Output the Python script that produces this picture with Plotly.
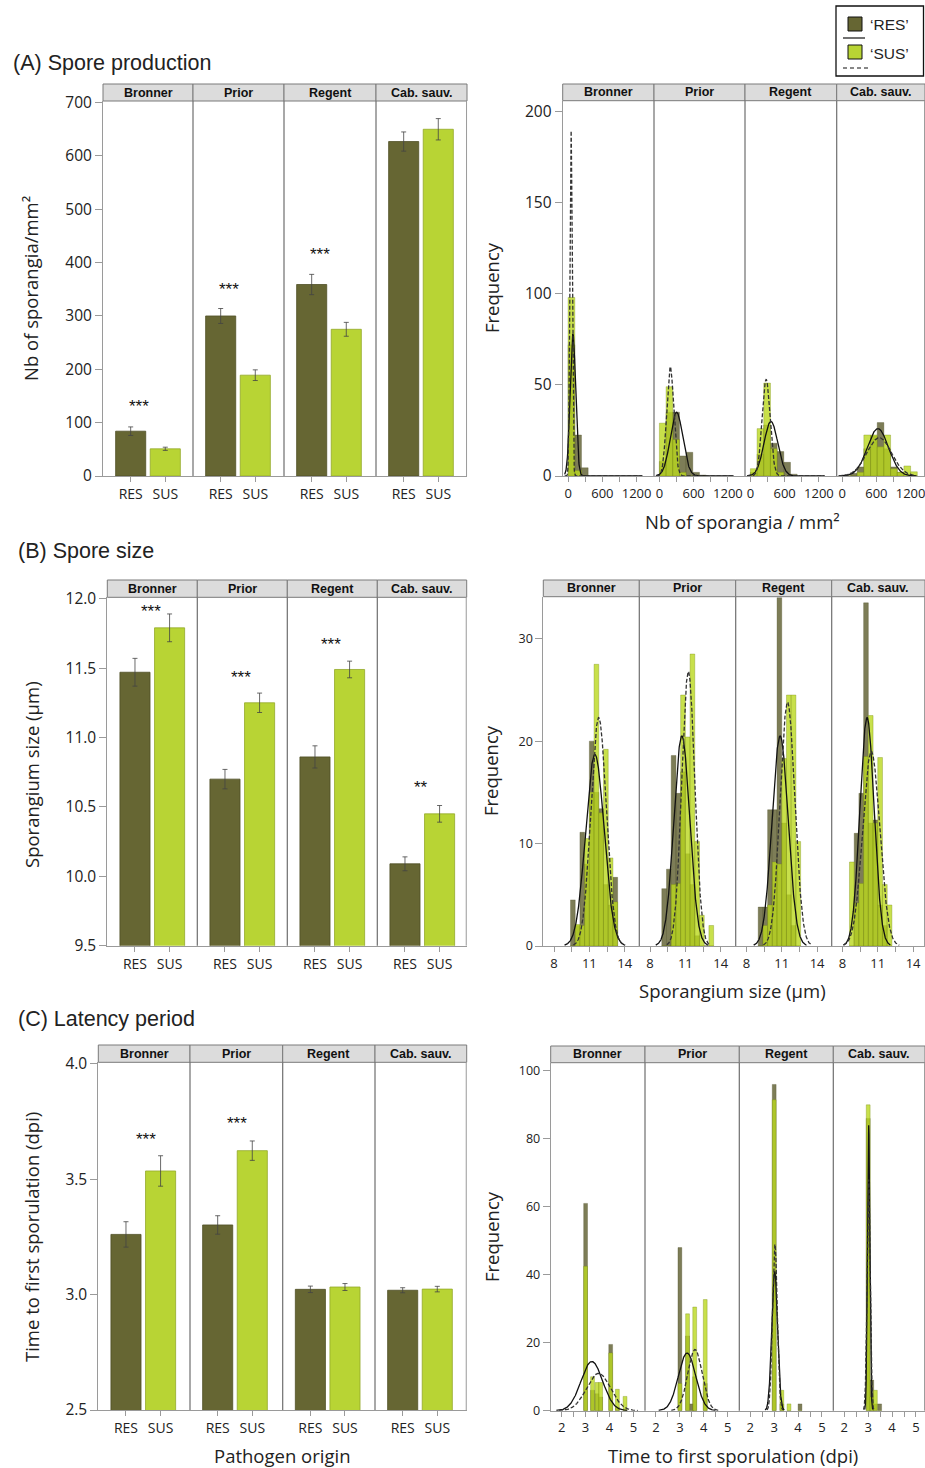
import numpy as np
import plotly.graph_objects as go

W, H = 925, 1468

cultivars = ["Bronner", "Prior", "Regent", "Cab. sauv."]
origin_labels = ["RES", "SUS"]

# ---------------- (A) Spore production : bar means / errors
prod_res = [84, 300, 359, 627]
prod_res_err = [8, 14, 19, 18]
prod_sus = [51, 189, 275, 650]
prod_sus_err = [3, 10, 13, 20]
prod_sig = ["***", "***", "***", ""]
prod_sig_y = [137, 358, 422, 0]

# (A) histograms (bin width 117 sporangia/mm2)
prod_bin_width = 117
prod_bins = [
    [58.5, 175.5, 292.5],
    [58.5, 175.5, 292.5, 409.5, 526.5, 643.5, 760.5],
    [58.5, 175.5, 292.5, 409.5, 526.5, 643.5, 760.5],
    [88.5, 205.5, 322.5, 439.5, 556.5, 673.5, 790.5, 907.5, 1024.5, 1141.5, 1258.5],
]
prod_hist_res = [
    [72, 22.5, 4.5],
    [8, 35, 35, 11, 13, 2, 0.5],
    [2, 12, 28, 18, 13.4, 7.5, 1],
    [0, 1.5, 5, 15, 22, 29.3, 15, 5, 2, 0, 0],
]
prod_hist_sus = [
    [98, 3, 0],
    [29, 49, 20, 2, 0, 0, 0],
    [4, 26, 51, 15, 2, 0, 0],
    [0, 0, 2, 22.5, 22.5, 16, 22.5, 4, 2, 5.5, 2.3],
]
# normal fits: mean, sd, peak height
prod_fit_res = [(84, 48, 78), (300, 110, 35), (359, 120, 30), (627, 185, 26)]
prod_fit_sus = [(51, 20, 190), (189, 62, 60), (275, 70, 53), (650, 215, 21)]

# ---------------- (B) Spore size
size_res = [11.47, 10.70, 10.86, 10.09]
size_res_err = [0.10, 0.07, 0.08, 0.05]
size_sus = [11.79, 11.25, 11.49, 10.45]
size_sus_err = [0.10, 0.07, 0.06, 0.06]
size_sig = ["***", "***", "***", "**"]
size_sig_y = [11.94, 11.46, 11.70, 10.67]

size_bin_width = 0.4
size_bins = [
    [9.6, 10.0, 10.4, 10.8, 11.2, 11.6, 12.0, 12.4, 12.8, 13.2],
    [9.2, 9.6, 10.0, 10.4, 10.8, 11.2, 11.6, 12.0, 12.4, 12.8, 13.2],
    [9.2, 9.6, 10.0, 10.4, 10.8, 11.2, 11.6, 12.0, 12.4],
    [8.8, 9.2, 9.6, 10.0, 10.4, 10.8, 11.2, 11.6, 12.0],
]
size_hist_res = [
    [4.5, 2, 11.1, 8, 20, 15, 13.4, 6, 4, 6.7],
    [5.6, 7.5, 18.6, 14.9, 17, 9, 6, 1, 0, 0, 0],
    [3.8, 3.8, 13.3, 13.3, 34, 12, 5, 2, 0],
    [0, 11, 14.9, 33.5, 12, 12.3, 4, 2, 0],
]
size_hist_sus = [
    [0, 2.1, 2, 10.5, 15, 27.5, 13, 19.2, 8.6, 4.3],
    [0, 0, 6, 6.1, 24.5, 20.4, 28.5, 10.2, 3, 0, 2],
    [0, 2, 4, 8.2, 8, 18.3, 24.5, 24.5, 10.2],
    [8.2, 4.2, 6.1, 18.5, 22.5, 12, 18.4, 6, 4],
]
size_fit_res = [(11.47, 0.78, 18.7), (10.70, 0.67, 20.5), (10.86, 0.68, 20.5), (10.09, 0.60, 22.3)]
size_fit_sus = [(11.79, 0.65, 22.3), (11.25, 0.55, 26.8), (11.49, 0.62, 23.8), (10.45, 0.72, 19.0)]

# ---------------- (C) Latency period
lat_res = [3.261, 3.302, 3.023, 3.019]
lat_res_err = [0.055, 0.04, 0.014, 0.011]
lat_sus = [3.536, 3.624, 3.033, 3.024]
lat_sus_err = [0.066, 0.042, 0.015, 0.012]
lat_sig = ["***", "***", "", ""]
lat_sig_y = [3.69, 3.76, 0, 0]

lat_bin_width = 0.16
lat_bins = [
    [3.0, 3.29, 3.48, 3.63, 4.05, 4.33, 4.65],
    [3.0, 3.32, 3.49, 3.62, 4.06],
    [3.0, 3.32, 3.62, 4.08],
    [3.0, 3.15, 3.30, 3.48],
]
lat_hist_res = [
    [61, 6, 5, 4, 19.5, 1, 0],
    [48, 22, 2, 10, 8],
    [96, 2, 0, 2],
    [86, 9, 2, 2],
]
lat_hist_sus = [
    [42.5, 10, 8.3, 8.3, 17, 6.3, 4.2],
    [8, 28.5, 0, 30.5, 32.7],
    [91.5, 6, 2, 0],
    [90, 4, 6, 0],
]
lat_fit_res = [(3.26, 0.45, 14.5), (3.30, 0.36, 17), (3.02, 0.12, 41), (3.02, 0.05, 84)]
lat_fit_sus = [(3.54, 0.50, 11), (3.63, 0.30, 18), (3.03, 0.10, 49), (3.02, 0.065, 68)]

# ---------------- styling
RES_C = "#666633"
SUS_C = "#B8D434"
RES_H = "rgba(88,88,40,0.78)"
SUS_H = "rgba(186,216,30,0.80)"
TXT = "#222222"
AX = "#9a9a9a"
FR = "#6e6e6e"
TICKF = "Open Sans"
TITLEF = "Liberation Sans"


def pxx(x):
    return x / W


def pxy(y):
    return 1 - y / H


fig = go.Figure()
layout = {}
shapes = []
annotations = []


def axname(kind, i):
    return f"{kind}axis" if i == 1 else f"{kind}axis{i}"


def axref(kind, i):
    return kind if i == 1 else f"{kind}{i}"


def setup_panel(p, edges, strip_top, top, bottom, yrange, ytickvals, yticktext,
                ytickfont, xranges, xtickvals, xticktext, xtickfont):
    yi = p + 1
    layout[axname("y", yi)] = dict(
        domain=[pxy(bottom), pxy(top)], range=yrange, anchor=axref("x", p * 4 + 1),
        tickvals=ytickvals, ticktext=yticktext, ticks="outside", ticklen=7,
        tickcolor=AX, showline=True, linecolor=AX, showgrid=False, zeroline=False,
        tickfont=dict(family=TICKF, size=ytickfont, color=TXT), fixedrange=True,
        automargin=False, ticklabeloverflow="allow",
    )
    for f in range(4):
        xi = p * 4 + f + 1
        layout[axname("x", xi)] = dict(
            domain=[pxx(edges[f]), min(1.0, pxx(edges[f + 1]))], range=xranges[f],
            anchor=axref("y", yi), tickvals=xtickvals, ticktext=xticktext,
            ticks="outside", ticklen=5, tickcolor=AX, showline=True, linecolor=AX,
            showgrid=False, zeroline=False,
            tickfont=dict(family=TICKF, size=xtickfont, color=TXT), fixedrange=True,
            automargin=False, ticklabeloverflow="allow",
        )
        # strip
        shapes.append(dict(type="rect", xref="paper", yref="paper",
                           x0=pxx(edges[f]), x1=pxx(edges[f + 1]),
                           y0=pxy(top), y1=pxy(strip_top),
                           fillcolor="#dcdcdc", line=dict(color="#7a7a7a", width=1)))
        annotations.append(dict(xref="paper", yref="paper",
                                x=pxx((edges[f] + min(edges[f + 1], W)) / 2),
                                y=pxy((top + strip_top) / 2), text=f"<b>{cultivars[f]}</b>",
                                showarrow=False, xanchor="center", yanchor="middle",
                                font=dict(family=TITLEF, size=12.5, color="#111")))
        # facet separators
        if f > 0:
            shapes.append(dict(type="line", xref="paper", yref="paper",
                               x0=pxx(edges[f]), x1=pxx(edges[f]),
                               y0=pxy(bottom), y1=pxy(top),
                               line=dict(color=FR, width=1.2)))
    # right frame line
    shapes.append(dict(type="line", xref="paper", yref="paper",
                       x0=pxx(edges[4]) - 0.0005, x1=pxx(edges[4]) - 0.0005,
                       y0=pxy(bottom), y1=pxy(top), line=dict(color=AX, width=1)))


def bar_facets(p, res, res_err, sus, sus_err, sig, sig_y, sig_x):
    yi = p + 1
    for f in range(4):
        xi = p * 4 + f + 1
        fig.add_trace(go.Bar(
            x=[0, 1], y=[res[f], sus[f]], width=0.87,
            marker=dict(color=[RES_C, SUS_C], line=dict(color=["#4f4f26", "#93a82a"], width=0.8)),
            error_y=dict(type="data", array=[res_err[f], sus_err[f]], color="#444",
                         thickness=0.8, width=2.5),
            xaxis=axref("x", xi), yaxis=axref("y", yi), showlegend=False, hoverinfo="skip",
        ))
        if sig[f]:
            annotations.append(dict(xref=axref("x", xi), yref=axref("y", yi), x=sig_x,
                                    y=sig_y[f], text=sig[f], showarrow=False,
                                    xanchor="center", yanchor="middle", yshift=-4,
                                    font=dict(family=TITLEF, size=17, color="#111")))


def hist_facets(p, bins, bw, hres, hsus, fres, fsus, curve_lo, curve_hi):
    yi = p + 1
    for f in range(4):
        xi = p * 4 + f + 1
        xr, yr = axref("x", xi), axref("y", yi)
        fig.add_trace(go.Bar(x=bins[f], y=hres[f], width=bw,
                             marker=dict(color=RES_H, line=dict(color="rgba(70,70,30,0.5)", width=0.6)),
                             xaxis=xr, yaxis=yr, showlegend=False, hoverinfo="skip"))
        fig.add_trace(go.Bar(x=bins[f], y=hsus[f], width=bw,
                             marker=dict(color=SUS_H, line=dict(color="rgba(120,140,20,0.6)", width=0.6)),
                             xaxis=xr, yaxis=yr, showlegend=False, hoverinfo="skip"))
        for (mu, sd, pk), dash in ((fres[f], "solid"), (fsus[f], "dash")):
            lo = curve_lo(mu, sd)
            hi = curve_hi(mu, sd)
            xs = np.linspace(lo, hi, 400)
            ys = pk * np.exp(-0.5 * ((xs - mu) / sd) ** 2)
            fig.add_trace(go.Scatter(x=xs, y=ys, mode="lines",
                                     line=dict(color="#111" if dash == "solid" else "#333",
                                               width=1.3, dash="solid" if dash == "solid" else "4px,2px"),
                                     xaxis=xr, yaxis=yr, showlegend=False, hoverinfo="skip"))


# ---------------- panel geometry (pixels)
left_ticks_x = [0, 1]
# A left
eA = [103, 193, 284, 376, 467]
setup_panel(0, eA, 84, 101, 476, [0, 703], list(range(0, 701, 100)),
            [str(v) for v in range(0, 701, 100)], 15.5,
            [[-0.8, -0.8 + (eA[f + 1] - eA[f]) / 34.6] for f in range(4)],
            left_ticks_x, origin_labels, 14)
bar_facets(0, prod_res, prod_res_err, prod_sus, prod_sus_err, prod_sig, prod_sig_y, 0.23)

# A right
eAr = [562.7, 654, 745, 836.7, 925]
sA = 1600 / 91.3
setup_panel(1, eAr, 84, 100.7, 476, [0, 206], [0, 50, 100, 150, 200],
            ["0", "50", "100", "150", "200"], 15.5,
            [[-95, -95 + (eAr[f + 1] - eAr[f]) * sA] for f in range(4)],
            [0, 300, 600, 900, 1200], ["0", "", "600", "", "1200"], 13)
hist_facets(1, prod_bins, prod_bin_width, prod_hist_res, prod_hist_sus,
            prod_fit_res, prod_fit_sus, lambda m, s: -60, lambda m, s: 1300)

# B left
eB = [107.3, 197.3, 287.3, 377.3, 466.7]
setup_panel(2, eB, 580, 597.3, 945.7, [9.5, 12.01], [9.5, 10, 10.5, 11, 11.5, 12],
            ["9.5", "10.0", "10.5", "11.0", "11.5", "12.0"], 15.5,
            [[-0.8, -0.8 + (eB[f + 1] - eB[f]) / 34.6] for f in range(4)],
            left_ticks_x, origin_labels, 14)
bar_facets(2, size_res, size_res_err, size_sus, size_sus_err, size_sig, size_sig_y, 0.47)

# B right
eBr = [543.3, 639.3, 735.7, 831.7, 925]
sB = 1 / 11.78
setup_panel(3, eBr, 580, 596.7, 946, [0, 34.1], [0, 10, 20, 30], ["0", "10", "20", "30"], 12.5,
            [[7.09, 7.09 + (eBr[f + 1] - eBr[f]) * sB] for f in range(4)],
            [8, 9.5, 11, 12.5, 14], ["8", "", "11", "", "14"], 13)
hist_facets(3, size_bins, size_bin_width, size_hist_res, size_hist_sus,
            size_fit_res, size_fit_sus, lambda m, s: m - 3.3 * s, lambda m, s: m + 3.3 * s)

# C left
eC = [98.3, 190, 282.7, 375, 466.7]
setup_panel(4, eC, 1045, 1062.3, 1410, [2.5, 4.007], [2.5, 3.0, 3.5, 4.0],
            ["2.5", "3.0", "3.5", "4.0"], 15.5,
            [[-0.8, -0.8 + (eC[f + 1] - eC[f]) / 34.6] for f in range(4)],
            left_ticks_x, origin_labels, 14)
bar_facets(4, lat_res, lat_res_err, lat_sus, lat_sus_err, lat_sig, lat_sig_y, 0.57)

# C right
eCr = [550.7, 645, 739.3, 833.3, 925]
sC = 1 / 23.9
setup_panel(5, eCr, 1046, 1062.7, 1410.7, [0, 102.4], [0, 20, 40, 60, 80, 100],
            ["0", "20", "40", "60", "80", "100"], 12.5,
            [[1.54, 1.54 + (eCr[f + 1] - eCr[f]) * sC] for f in range(4)],
            [2, 2.5, 3, 3.5, 4, 4.5, 5], ["2", "", "3", "", "4", "", "5"], 13)
hist_facets(5, lat_bins, lat_bin_width, lat_hist_res, lat_hist_sus,
            lat_fit_res, lat_fit_sus, lambda m, s: m - 3.3 * s, lambda m, s: m + 3.3 * s)

# ---------------- titles
def txt(x, y, s, size, family=TICKF, angle=0, xanchor="center"):
    annotations.append(dict(xref="paper", yref="paper", x=pxx(x), y=pxy(y), text=s,
                            showarrow=False, xanchor=xanchor, yanchor="middle",
                            textangle=angle, font=dict(family=family, size=size, color=TXT)))


txt(11, 63, "(A) Spore production", 21.5, TITLEF, xanchor="left")
txt(16, 551, "(B) Spore size", 21.5, TITLEF, xanchor="left")
txt(16, 1019, "(C) Latency period", 21.5, TITLEF, xanchor="left")

txt(31, 289, "Nb of sporangia/mm²", 18.5, angle=-90)
txt(31, 775, "Sporangium size (µm)", 18.5, angle=-90)
txt(31, 1237, "Time to first sporulation (dpi)", 18.5, angle=-90)

txt(491, 288, "Frequency", 18.5, angle=-90)
txt(491, 771, "Frequency", 18.5, angle=-90)
txt(491, 1237, "Frequency", 18.5, angle=-90)

txt(742, 521, "Nb of sporangia / mm²", 18.5)
txt(732, 991, "Sporangium size (µm)", 18.5)
txt(282, 1455, "Pathogen origin", 18.5)
txt(733, 1455, "Time to first sporulation (dpi)", 18.5)

# ---------------- legend (drawn)
shapes.append(dict(type="rect", xref="paper", yref="paper", x0=pxx(836), x1=pxx(923.5),
                   y0=pxy(76), y1=pxy(6), line=dict(color="#111", width=1.3), fillcolor="white"))
shapes.append(dict(type="rect", xref="paper", yref="paper", x0=pxx(848), x1=pxx(862),
                   y0=pxy(31), y1=pxy(17), line=dict(color="#111", width=1), fillcolor=RES_C))
shapes.append(dict(type="rect", xref="paper", yref="paper", x0=pxx(848), x1=pxx(862),
                   y0=pxy(59), y1=pxy(45), line=dict(color="#111", width=1), fillcolor=SUS_C))
shapes.append(dict(type="line", xref="paper", yref="paper", x0=pxx(843), x1=pxx(865),
                   y0=pxy(38), y1=pxy(38), line=dict(color="#111", width=1.2)))
shapes.append(dict(type="line", xref="paper", yref="paper", x0=pxx(843), x1=pxx(868),
                   y0=pxy(68), y1=pxy(68), line=dict(color="#111", width=1.2, dash="4px,3px")))
txt(868, 24, "‘RES’", 15.5, TITLEF, xanchor="left")
txt(868, 53, "‘SUS’", 15.5, TITLEF, xanchor="left")

layout.update(dict(
    width=W, height=H, margin=dict(l=0, r=0, t=0, b=0, pad=0, autoexpand=False),
    paper_bgcolor="white", plot_bgcolor="white", barmode="overlay",
    showlegend=False, shapes=shapes, annotations=annotations,
    font=dict(family=TICKF, color=TXT),
))
fig.update_layout(**layout)
fig.write_html(
    "out.html",
    config={"displayModeBar": False, "responsive": False},
    post_script=(
        "var gd=document.getElementById('{plot_id}');"
        "gd.style.position='absolute';gd.style.left='0px';gd.style.top='0px';"
        "document.documentElement.style.margin='0';"
        "document.documentElement.style.padding='0';"
        "document.documentElement.style.overflow='hidden';"
        "document.body.style.margin='0';"
        "document.body.style.padding='0';"
        "document.body.style.overflow='hidden';"
        "document.body.style.height='1468px';"
    ),
)
